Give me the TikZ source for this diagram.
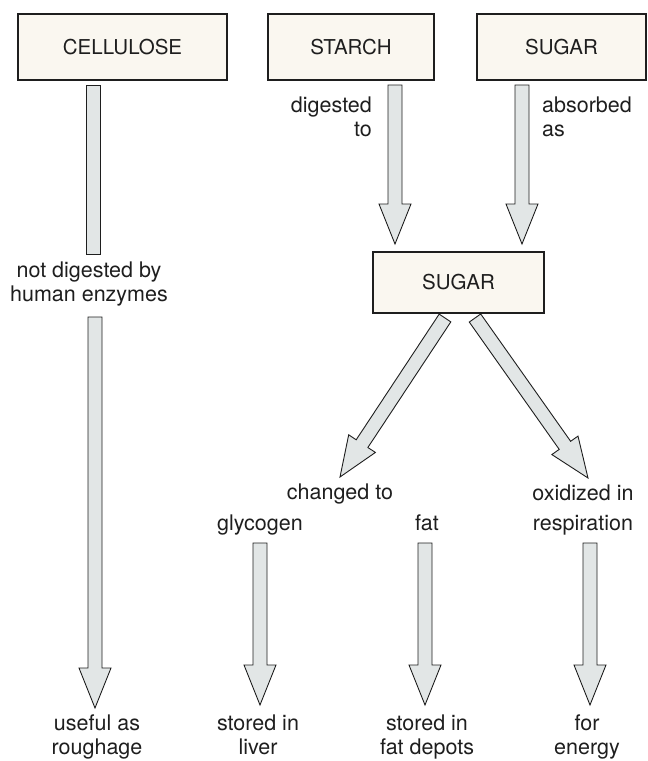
\documentclass[tikz,border=0pt]{standalone}
\usepackage{fontspec}
\setmainfont{TeX Gyre Heros}
\usepackage{xcolor}
\usetikzlibrary{calc, positioning}

\definecolor{boxfill}{RGB}{250,247,240}
\definecolor{barfill}{RGB}{226,230,230}
\definecolor{ink}{RGB}{30,30,30}

\newcommand{\boxfont}{\fontsize{20.5}{25}\selectfont}
\newcommand{\labfont}{\fontsize{21.5}{24}\selectfont}

% hollow block arrow from #1 to #2
\newcommand{\blockarrow}[2]{%
  \coordinate (hb) at ($(#2)!40pt!(#1)$);
  \filldraw[bar] ($(#1)!7pt!90:(#2)$) -- ($(hb)!7pt!-90:(#1)$) -- ($(hb)!16pt!-90:(#1)$)
    -- (#2) -- ($(hb)!16pt!90:(#1)$) -- ($(hb)!7pt!90:(#1)$) -- ($(#1)!7pt!-90:(#2)$) -- cycle;
}

\begin{document}
\begin{tikzpicture}[
  x=1pt, y=-1pt,
  box/.style={rectangle, draw=ink, line width=1.3pt, fill=boxfill, inner sep=0pt, font=\boxfont, text=ink},
  bar/.style={draw=ink, line width=0.9pt, fill=barfill, line join=miter},
  lab/.style={inner sep=0pt, font=\labfont, text=ink, execute at begin node=\strut, execute at end node=\strut},
]
  \useasboundingbox (0,0) rectangle (648,761);

  \node[box, minimum width=209pt, minimum height=66pt] (cellulose) at (122.5,47) {CELLULOSE};
  \node[box, minimum width=166pt, minimum height=66pt] (starch) at (351,47) {STARCH};
  \node[box, minimum width=169pt, minimum height=66pt] (sugar) at (561.5,47) {SUGAR};
  \node[box, minimum width=171pt, minimum height=61pt] (sugarmid) at (458.5,282.5) {SUGAR};

  \node[lab, align=right, anchor=east] (digested) at (372,120) {digested\\to};
  \node[lab, align=left, anchor=west] (absorbed) at (542,120) {absorbed\\as};
  \node[lab, align=center] (notdig) at (89,285) {not digested by\\human enzymes};
  \node[lab] (changed) at (340,495) {changed to};
  \node[lab, align=center] (oxidized) at (583,511) {oxidized in\\[6pt]respiration};
  \node[lab] (glycogen) at (260,526) {glycogen};
  \node[lab] (fat) at (427,526) {fat};
  \node[lab, align=center] (roughage) at (97,738) {useful as\\roughage};
  \node[lab, align=center] (liver) at (258,738) {stored in\\liver};
  \node[lab, align=center] (depots) at (427,738) {stored in\\fat depots};
  \node[lab, align=center] (energy) at (587,738) {for\\energy};

  \coordinate (cel-a) at (93,85);
  \coordinate (cel-b) at (93,254);
  \coordinate (cel-c) at (95,317);
  \coordinate (cel-d) at (95,708);
  \coordinate (sta-a) at (395,85);
  \coordinate (sta-b) at (395,244);
  \coordinate (sug-a) at (522,85);
  \coordinate (sug-b) at (522,244);
  \coordinate (chg-a) at (445,318);
  \coordinate (chg-b) at (340,477);
  \coordinate (oxi-a) at (475,318);
  \coordinate (oxi-b) at (588,478);
  \coordinate (gly-a) at (260,543);
  \coordinate (gly-b) at (260,705);
  \coordinate (fat-a) at (425,543);
  \coordinate (fat-b) at (425,705);
  \coordinate (ene-a) at (590,543);
  \coordinate (ene-b) at (590,705);

  \filldraw[bar] ($(cel-a)+(-7,0)$) rectangle ($(cel-b)+(7,0)$);
  \blockarrow{cel-c}{cel-d}
  \blockarrow{sta-a}{sta-b}
  \blockarrow{sug-a}{sug-b}
  \blockarrow{chg-a}{chg-b}
  \blockarrow{oxi-a}{oxi-b}
  \blockarrow{gly-a}{gly-b}
  \blockarrow{fat-a}{fat-b}
  \blockarrow{ene-a}{ene-b}
\end{tikzpicture}
\end{document}
